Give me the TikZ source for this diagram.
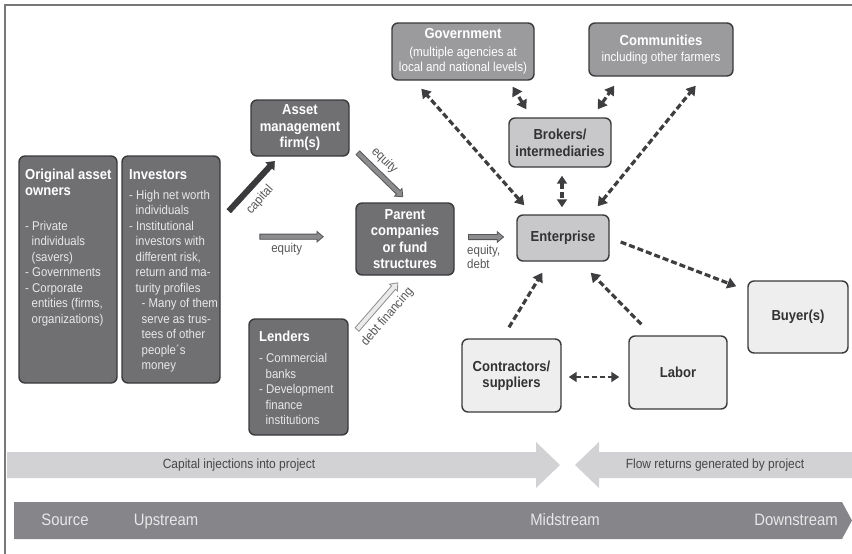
\documentclass[tikz,border=0pt]{standalone}
\usepackage{fontspec}
\setmainfont[FakeStretch=0.9]{Liberation Sans}
\usetikzlibrary{shapes.arrows,arrows.meta,calc}

\definecolor{framegray}{RGB}{120,120,122}
\definecolor{boxline}{RGB}{58,58,60}
\definecolor{darkfill}{RGB}{112,112,115}
\definecolor{midfill}{RGB}{155,155,158}
\definecolor{lightfill}{RGB}{200,200,202}
\definecolor{palefill}{RGB}{238,238,238}
\definecolor{bodytext}{RGB}{232,232,232}
\definecolor{darktext}{RGB}{50,50,52}
\definecolor{labeltext}{RGB}{85,85,88}
\definecolor{dashgray}{RGB}{62,62,64}
\definecolor{bandlight}{RGB}{210,210,212}
\definecolor{banddark}{RGB}{134,134,138}
\definecolor{bandtext}{RGB}{70,70,72}
\definecolor{pipefill}{RGB}{140,140,143}
\definecolor{pipeline}{RGB}{85,85,88}
\definecolor{pipelight}{RGB}{235,235,236}

\newcommand{\ind}{\hspace*{6.5pt}}
\newcommand{\subind}{\hspace*{12.5pt}}

\tikzset{
  box/.style={draw=boxline, line width=1.4pt, rounded corners=6pt, inner sep=0pt, align=center},
  darkbox/.style={box, fill=darkfill, text=white, font=\bfseries\fontsize{14.5}{16.5}\selectfont},
  midbox/.style={box, fill=midfill, text=white, font=\fontsize{13}{15.6}\selectfont},
  lightbox/.style={box, fill=lightfill, text=darktext, font=\bfseries\fontsize{14.5}{17}\selectfont},
  palebox/.style={box, fill=palefill, text=darktext, font=\bfseries\fontsize{14.5}{16}\selectfont},
  titletxt/.style={anchor=north west, inner sep=0pt, align=left, text=white, font=\bfseries\fontsize{14.5}{16}\selectfont},
  bodytxt/.style={anchor=north west, inner sep=0pt, align=left, text=bodytext, font=\fontsize{12.7}{15.5}\selectfont},
  lbl/.style={inner sep=0pt, text=labeltext, font=\fontsize{12.8}{11}\selectfont},
  pipe/.style={single arrow, sloped, midway, inner sep=2.2pt, single arrow head extend=2.7pt,
    single arrow tip angle=80, line width=0.8pt, minimum width=0pt},
  dasharrow/.style={draw=dashgray, line width=3.2pt, dash pattern=on 6pt off 3pt},
  tipsize/.style={arrows={#1}},
  bandtxt/.style={anchor=base, inner sep=0pt, text=bandtext, font=\fontsize{13.3}{15}\selectfont},
  stagetxt/.style={anchor=base, inner sep=0pt, text=bodytext, font=\fontsize{16.5}{18}\selectfont},
}

\begin{document}
\begin{tikzpicture}[x=1pt, y=-1pt]
\useasboundingbox (0,0) rectangle (852,554);

% outer frame (top and left edges)
\draw[framegray, line width=2pt] (5,554) -- (5,5) -- (852,5);

% ---- capital sources ----
\node[darkbox, minimum width=98pt, minimum height=227pt] (oao) at (68,269.5) {};
\node[titletxt] (oaoT) at (25,168.1) {\strut Original asset\\owners};
\node[bodytxt] (oaoB) at (25,219.15) {\strut- Private\\\ind individuals\\\ind(savers)\\- Governments\\- Corporate\\\ind entities (firms,\\\ind organizations)};

\node[darkbox, minimum width=98pt, minimum height=227pt] (inv) at (171,269.5) {};
\node[titletxt] (invT) at (129,168.1) {\strut Investors};
\node[bodytxt] (invB) at (129,188.15) {\strut- High net worth\\\ind individuals\\- Institutional\\\ind investors with\\\ind different risk,\\\ind return and ma-\\\ind turity profiles\\\subind- Many of them\\\subind serve as trus-\\\subind tees of other\\\subind people´s\\\subind money};

\node[darkbox, minimum width=98pt, minimum height=56pt] (am) at (300,128) {Asset\\management\\firm(s)};
\node[darkbox, minimum width=98pt, minimum height=72pt] (parent) at (405,239) {Parent\\companies\\or fund\\structures};

\node[darkbox, minimum width=99pt, minimum height=116pt] (lend) at (298.5,377) {};
\node[titletxt] (lendT) at (259,329.8) {\strut Lenders};
\node[bodytxt] (lendB) at (259,351.45) {\strut- Commercial\\\ind banks\\- Development\\\ind finance\\\ind institutions};

% ---- project environment ----
\node[midbox, minimum width=142pt, minimum height=57pt] (gov) at (463,51.5)
  {{\bfseries\fontsize{14.5}{15.6}\selectfont Government}\\[2pt](multiple agencies at\\local and national levels)};
\node[midbox, minimum width=144pt, minimum height=53pt] (comm) at (661,49.5)
  {{\bfseries\fontsize{14.5}{15.6}\selectfont Communities}\\including other farmers};
\node[lightbox, minimum width=102pt, minimum height=49pt] (brk) at (560,142.5) {Brokers/\\intermediaries};
\node[lightbox, minimum width=92pt, minimum height=46pt] (ent) at (563,238) {Enterprise};
\node[palebox, minimum width=100pt, minimum height=72pt] (buy) at (798,317) {Buyer(s)};
\node[palebox, minimum width=99pt, minimum height=73pt] (con) at (511.5,375.5) {Contractors/\\suppliers};
\node[palebox, minimum width=98pt, minimum height=73pt] (lab) at (678,372.5) {Labor};

% ---- financing flows (block arrows) ----
\coordinate (capA) at (228,212);   \coordinate (capB) at (273.3,162.7);
\coordinate (eqdA) at (356.7,151.7); \coordinate (eqdB) at (401.7,195.7);
\coordinate (eqhA) at (258.3,236.7); \coordinate (eqhB) at (321.7,236.7);
\coordinate (dbtA) at (356,330.7); \coordinate (dbtB) at (396.7,284);
\coordinate (edA) at (467,237);    \coordinate (edB) at (502,237);

\path (capA) -- node[pipe, fill=boxline, draw=boxline, minimum height=67pt] (capArr) {} (capB);
\path (eqdA) -- node[pipe, fill=pipefill, draw=pipeline, minimum height=62.9pt] (eqdArr) {} (eqdB);
\path (eqhA) -- node[pipe, fill=pipefill, draw=pipeline, minimum height=63.4pt] (eqhArr) {} (eqhB);
\path (dbtA) -- node[pipe, fill=pipelight, draw=pipefill, minimum height=61.9pt] (dbtArr) {} (dbtB);
\path (edA) -- node[pipe, fill=pipefill, draw=pipeline, minimum height=35pt] (edArr) {} (edB);

\node[lbl, rotate=48] (capL) at (260,200) {capital};
\node[lbl, rotate=-44] (eqdL) at (384.5,160.5) {equity};
\node[lbl] (eqhL) at (286.7,249.3) {equity};
\node[lbl, rotate=49] (dbtL) at (387.5,317) {debt financing};
\node[lbl, anchor=north west, align=left] (edL) at (467,245.3) {\strut equity,\\debt};

% ---- relationships (dashed) ----
\draw[dasharrow, tipsize={Triangle[length=9pt,width=11pt]-Triangle[length=9pt,width=11pt]}]
  ($(ent.north west)+(8,-9)$) -- ($(gov.south west)+(30,8)$);
\draw[dasharrow, tipsize={Triangle[length=9pt,width=11pt]-Triangle[length=9pt,width=11pt]}]
  ($(brk.north west)+(18,-8)$) -- ($(gov.south east)+(-22,6)$);
\draw[dasharrow, tipsize={Triangle[length=9pt,width=11pt]-Triangle[length=9pt,width=11pt]}]
  ($(brk.north east)+(-14,-8)$) -- ($(comm.south west)+(26,9)$);
\draw[dasharrow, tipsize={Triangle[length=9pt,width=11pt]-Triangle[length=9pt,width=11pt]}]
  ($(ent.north east)+(-12,-8)$) -- ($(comm.south east)+(-38,9)$);
\draw[dasharrow, tipsize={Triangle[length=8pt,width=10pt]-Triangle[length=8pt,width=10pt]}]
  ($(brk.south)+(2,8)$) -- ($(ent.north)+(-1,-7)$);
\draw[dasharrow, tipsize={-Triangle[length=9pt,width=11pt]}]
  ($(ent.east)+(11,4)$) -- ($(buy.north west)+(-11,6)$);
\draw[dasharrow, tipsize={-Triangle[length=9pt,width=11pt]}]
  ($(con.north)+(-2.5,-11)$) -- ($(ent.south west)+(26,11)$);
\draw[dasharrow, tipsize={-Triangle[length=9pt,width=11pt]}]
  ($(lab.north west)+(13,-11)$) -- ($(ent.south east)+(-19,11)$);
\draw[dasharrow, line width=2.6pt, dash pattern=on 5pt off 3pt, tipsize={Triangle[length=8pt,width=10pt]-Triangle[length=8pt,width=10pt]}]
  ($(con.east)+(7,1.5)$) -- ($(lab.west)+(-9,4.5)$);

% ---- flow bands ----
\fill[bandlight] (7,452) -- (536,452) -- (536,442) -- (560,465) -- (536,488) -- (536,478) -- (7,478) -- cycle;
\fill[bandlight] (852,452) -- (599,452) -- (599,442) -- (575,465) -- (599,488) -- (599,478) -- (852,478) -- cycle;
\node[bandtxt] (capT) at (239,468.3) {Capital injections into project};
\node[bandtxt] (flowT) at (715,468.3) {Flow returns generated by project};

\fill[banddark] (14,502) -- (842,502) -- (852,520.5) -- (842,539) -- (14,539) -- cycle;
\node[stagetxt] (srcT) at (65,525) {Source};
\node[stagetxt] (upT) at (166,525) {Upstream};
\node[stagetxt] (midT) at (565,525) {Midstream};
\node[stagetxt] (downT) at (796,525) {Downstream};
\end{tikzpicture}
\end{document}
